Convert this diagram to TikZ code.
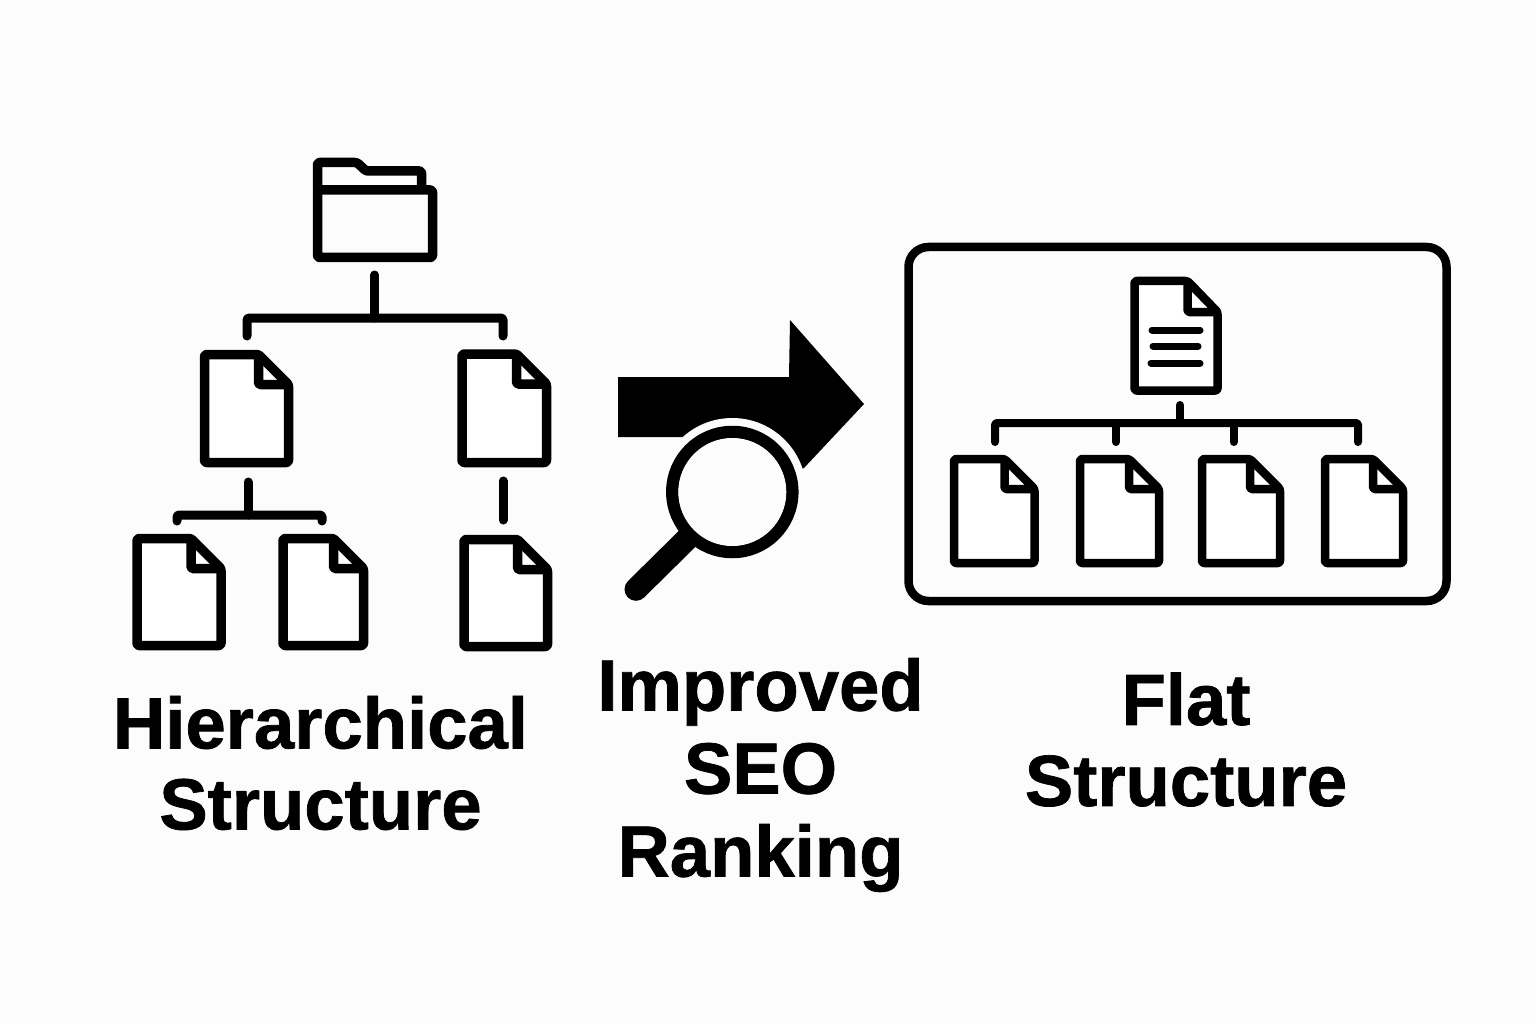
\documentclass[tikz,border=0pt]{standalone}
\usepackage{fontspec}
\setmainfont{Liberation Sans}[BoldFeatures={FakeBold=1.0}]
\tikzset{
  icon/.style={line width=#1,draw=black,line join=round,rounded corners=2.2pt},
  conn/.style={line width=#1,draw=black,line cap=round,line join=round,rounded corners=1.5pt},
  title/.style={font=\fontsize{72.5}{81}\selectfont\bfseries,align=center,anchor=center,inner sep=0pt,text=black}
}
% #1 l, #2 t, #3 r, #4 b, #5 line width
\newcommand{\docicon}[5]{%
  \draw[icon=#5,fill=white] (#1,#2) -- ({#3-30},#2) -- (#3,{#2+30}) -- (#3,#4) -- (#1,#4) -- cycle;
  \draw[icon=#5,rounded corners=1.5pt] ({#3-30},#2) -- ({#3-30},{#2+30}) -- (#3,{#2+30});
}
\begin{document}
\begin{tikzpicture}[x=1pt,y=-1pt]
\useasboundingbox (0,0) rectangle (1536,1024);
\fill[white!99!black] (0,0) rectangle (1536,1024);

% Folder
\draw[icon=9.5pt] (317.5,190) -- (317.5,162.5) -- (357,162.5) -- (366,171) -- (421.5,171) -- (421.5,190);
\draw[icon=9.5pt] (317.5,190) -- (432.5,190) -- (432.5,257.5) -- (317.5,257.5) -- cycle;

% Left documents
\docicon{204.5}{354.5}{288.5}{462.5}{9.5pt}
\docicon{462}{354}{546.5}{462.5}{9.5pt}
\docicon{137}{538.5}{221}{645.5}{9.5pt}
\docicon{283}{538.5}{363.5}{645.5}{9.5pt}
\docicon{464}{539.5}{547.5}{646.5}{9.5pt}

% Left connectors
\coordinate (ftop) at (374.5,275);
\coordinate (fj) at (374.5,318);
\coordinate (al) at (247,336);
\coordinate (ar) at (503,336);
\draw[conn=9pt] (ftop) -- (fj);
\draw[conn=9pt] (al) -- (al |- fj) -- (ar |- fj) -- (ar);
\coordinate (btop) at (248,482);
\coordinate (bj) at (248,515);
\coordinate (cl) at (177,521);
\coordinate (cr) at (322,521);
\draw[conn=9pt] (btop) -- (bj);
\draw[conn=9pt] (cl) -- (cl |- bj) -- (cr |- bj) -- (cr);
\coordinate (rtop) at (503,481);
\coordinate (rbot) at (503,520);
\draw[conn=9pt] (rtop) -- (rbot);

% Arrow and magnifier
\fill[black] (618,377) -- (789,377) -- (790,320) -- (864,404) -- (804,468) -- (732,492) -- (682,437) -- (618,437) -- cycle;
\coordinate (lens) at (732.3,492);
\fill[white!99!black] (lens) circle (74);
\draw[line width=12.5pt,black,fill=white!99!black] (lens) circle (60);
\coordinate (hs) at (636,589.3);
\coordinate (he) at (689,537);
\draw[line width=23pt,line cap=round,black] (hs) -- (he);
\fill[white!99!black] (lens) circle (54);

% Flat frame
\draw[line width=8.5pt,black,rounded corners=20pt] (908.5,247) rectangle (1446.5,601);

% Main document
\draw[icon=8.5pt,fill=white] (1134.5,281) -- (1187.5,281) -- (1217.5,312) -- (1217.5,390.5) -- (1134.5,390.5) -- cycle;
\draw[icon=8.5pt,rounded corners=1.5pt] (1187.5,281) -- (1187.5,312) -- (1217.5,312);
\draw[line width=7pt,line cap=round] (1152,330) -- (1200,330);
\draw[line width=7pt,line cap=round] (1153,346) -- (1198,346);
\draw[line width=7pt,line cap=round] (1151,363) -- (1200,363);

% Flat connectors
\coordinate (mtop) at (1180,405);
\coordinate (mj) at (1180,423);
\coordinate (t1) at (995,442);
\coordinate (t2) at (1116,442);
\coordinate (t3) at (1233.5,442);
\coordinate (t4) at (1358,442);
\draw[conn=8pt] (mtop) -- (mj);
\draw[conn=8pt] (t1) -- (t1 |- mj) -- (t4 |- mj) -- (t4);
\draw[conn=8pt] (t2 |- mj) -- (t2);
\draw[conn=8pt] (t3 |- mj) -- (t3);

% Flat documents
\docicon{954}{459}{1034.5}{563}{8.5pt}
\docicon{1080}{459}{1159}{563}{8.5pt}
\docicon{1202}{459}{1280}{563}{8.5pt}
\docicon{1325}{459}{1403}{563}{8.5pt}

% Labels
\node[title] (hier) at (320.5,763) {Hierarchical\\Structure};
\node[title,font=\fontsize{72.5}{83}\selectfont\bfseries] (seo) at (760.5,775) {Improved\\SEO\\Ranking};
\node[title] (flat) at (1186,739.5) {Flat\\Structure};
\end{tikzpicture}
\end{document}
